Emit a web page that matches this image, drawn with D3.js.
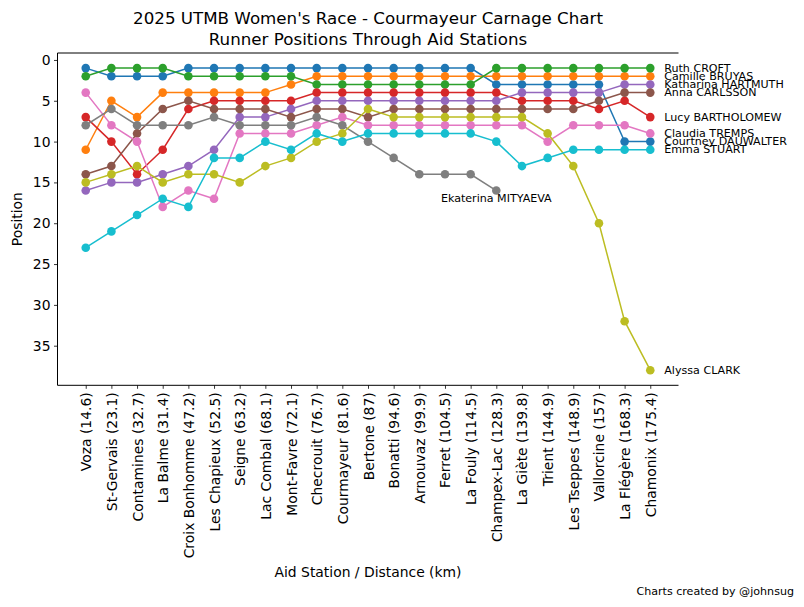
<!DOCTYPE html>
<html>
<head>
<meta charset="utf-8">
<script src="https://cdn.jsdelivr.net/npm/d3@7"></script>
<style>
  body { margin: 0; background: #fff; }
  svg { font-family: "DejaVu Sans", sans-serif; }
</style>
</head>
<body>
<svg id="chart" width="804" height="607"></svg>
<script>
var stations = ["Voza (14.6)", "St-Gervais (23.1)", "Contamines (32.7)", "La Balme (31.4)",
  "Croix Bonhomme (47.2)", "Les Chapieux (52.5)", "Seigne (63.2)", "Lac Combal (68.1)",
  "Mont-Favre (72.1)", "Checrouit (76.7)", "Courmayeur (81.6)", "Bertone (87)",
  "Bonatti (94.6)", "Arnouvaz (99.9)", "Ferret (104.5)", "La Fouly (114.5)",
  "Champex-Lac (128.3)", "La Giète (139.8)", "Trient (144.9)", "Les Tseppes (148.9)",
  "Vallorcine (157)", "La Flégère (168.3)", "Chamonix (175.4)"];

var runners = ["Courtney DAUWALTER", "Camille BRUYAS", "Ruth CROFT", "Lucy BARTHOLOMEW",
  "Katharina HARTMUTH", "Anna CARLSSON", "Claudia TREMPS", "Ekaterina MITYAEVA",
  "Alyssa CLARK", "Emma STUART"];

var courtney = [1, 2, 2, 2, 1, 1, 1, 1, 1, 1, 1, 1, 1, 1, 1, 1, 3, 3, 3, 3, 3, 10, 10];
var camille = [11, 5, 7, 4, 4, 4, 4, 4, 3, 2, 2, 2, 2, 2, 2, 2, 2, 2, 2, 2, 2, 2, 2];
var ruth = [2, 1, 1, 1, 2, 2, 2, 2, 2, 3, 3, 3, 3, 3, 3, 3, 1, 1, 1, 1, 1, 1, 1];
var lucy = [7, 10, 14, 11, 6, 5, 5, 5, 5, 4, 4, 4, 4, 4, 4, 4, 4, 5, 5, 5, 6, 5, 7];
var katharina = [16, 15, 15, 14, 13, 11, 7, 7, 6, 5, 5, 5, 5, 5, 5, 5, 5, 4, 4, 4, 4, 3, 3];
var anna = [14, 13, 9, 6, 5, 6, 6, 6, 7, 6, 6, 7, 6, 6, 6, 6, 6, 6, 6, 6, 5, 4, 4];
var claudia = [4, 8, 10, 18, 16, 17, 9, 9, 9, 8, 7, 8, 8, 8, 8, 8, 8, 8, 10, 8, 8, 8, 9];
var ekaterina = [8, 6, 8, 8, 8, 7, 8, 8, 8, 7, 8, 10, 12, 14, 14, 14, 16];
var alyssa = [15, 14, 13, 15, 14, 14, 15, 13, 12, 10, 9, 6, 7, 7, 7, 7, 7, 7, 9, 13, 20, 32, 38];
var emma = [23, 21, 19, 17, 18, 12, 12, 10, 11, 9, 10, 9, 9, 9, 9, 9, 10, 13, 12, 11, 11, 11, 11];

var yTicks = [0, 5, 10, 15, 20, 25, 30, 35];

var series = [courtney, camille, ruth, lucy, katharina, anna, claudia, ekaterina, alyssa, emma];
var colors = d3.schemeCategory10;

var svg = d3.select("#chart");
var plotLeft = 57.5, plotRight = 678.5, plotTop = 53, plotBottom = 385.3;

var x = d3.scaleLinear().domain([-1.1, stations.length - 1 + 1.1]).range([plotLeft, plotRight]);
var y = d3.scaleLinear().domain([-0.85, 39.85]).range([plotTop, plotBottom]);

// title
svg.append("text").attr("x", (plotLeft + plotRight) / 2).attr("y", 18).attr("text-anchor", "middle")
  .attr("dominant-baseline", "central").style("font-size", "16.7px")
  .text("2025 UTMB Women's Race - Courmayeur Carnage Chart");
svg.append("text").attr("x", (plotLeft + plotRight) / 2).attr("y", 39).attr("text-anchor", "middle")
  .attr("dominant-baseline", "central").style("font-size", "16.7px")
  .text("Runner Positions Through Aid Stations");

// axes
var yAxis = d3.axisLeft(y).tickValues(yTicks).tickSizeOuter(0).tickSize(3.5).tickPadding(3.5);
var gy = svg.append("g").attr("transform", "translate(" + plotLeft + ",0)").call(yAxis);
gy.select(".domain").remove();
gy.selectAll("text").style("font-size", "13.9px").style("font-family", "DejaVu Sans").attr("fill", "#000");
gy.selectAll("line").attr("stroke", "#000").attr("stroke-width", 0.8);

var xAxis = d3.axisBottom(x).tickValues(d3.range(stations.length))
  .tickFormat(function (d) { return stations[d]; }).tickSize(3.5).tickPadding(3.5);
var gx = svg.append("g").attr("transform", "translate(0," + plotBottom + ")").call(xAxis);
gx.select(".domain").remove();
gx.selectAll("line").attr("stroke", "#000").attr("stroke-width", 0.8);
gx.selectAll("text")
  .style("font-size", "13.9px").style("font-family", "DejaVu Sans").attr("fill", "#000")
  .attr("text-anchor", "end").attr("dy", null).attr("y", null)
  .attr("dominant-baseline", "central")
  .attr("transform", "translate(0,7) rotate(-90)");

// spines: left, top, bottom (no right one)
svg.append("line").attr("x1", plotLeft).attr("x2", plotLeft).attr("y1", plotTop).attr("y2", plotBottom)
  .attr("stroke", "#000").attr("stroke-width", 1);
svg.append("line").attr("x1", plotLeft).attr("x2", plotRight).attr("y1", plotTop).attr("y2", plotTop)
  .attr("stroke", "#000").attr("stroke-width", 1);
svg.append("line").attr("x1", plotLeft).attr("x2", plotRight).attr("y1", plotBottom).attr("y2", plotBottom)
  .attr("stroke", "#000").attr("stroke-width", 1);

// lines + markers
var line = d3.line().x(function (d, i) { return x(i); }).y(function (d) { return y(d); });
series.forEach(function (s, k) {
  var g = svg.append("g");
  g.append("path").attr("d", line(s)).attr("fill", "none")
    .attr("stroke", colors[k]).attr("stroke-width", 1.5);
  g.selectAll("circle").data(s).enter().append("circle")
    .attr("cx", function (d, i) { return x(i); })
    .attr("cy", function (d) { return y(d); })
    .attr("r", 4.3).attr("fill", colors[k]);
});

// end labels
series.forEach(function (s, k) {
  var last = s.length - 1;
  if (last === stations.length - 1) {
    svg.append("text").attr("x", x(last) + 14).attr("y", y(s[last]))
      .attr("dominant-baseline", "central").style("font-size", "11.1px")
      .text(runners[k]);
  } else {
    svg.append("text").attr("x", x(last)).attr("y", y(s[last]) + 7.5)
      .attr("text-anchor", "middle").attr("dominant-baseline", "central")
      .style("font-size", "11.1px").text(runners[k]);
  }
});

// axis titles
svg.append("text").attr("transform", "translate(17," + ((plotTop + plotBottom) / 2) + ") rotate(-90)")
  .attr("text-anchor", "middle").attr("dominant-baseline", "central")
  .style("font-size", "13.9px").text("Position");
svg.append("text").attr("x", (plotLeft + plotRight) / 2).attr("y", 572).attr("text-anchor", "middle")
  .attr("dominant-baseline", "central").style("font-size", "13.9px")
  .text("Aid Station / Distance (km)");

svg.append("text").attr("x", 794).attr("y", 591).attr("text-anchor", "end")
  .attr("dominant-baseline", "central").style("font-size", "11.1px")
  .text("Charts created by @johnsug");
</script>
</body>
</html>
